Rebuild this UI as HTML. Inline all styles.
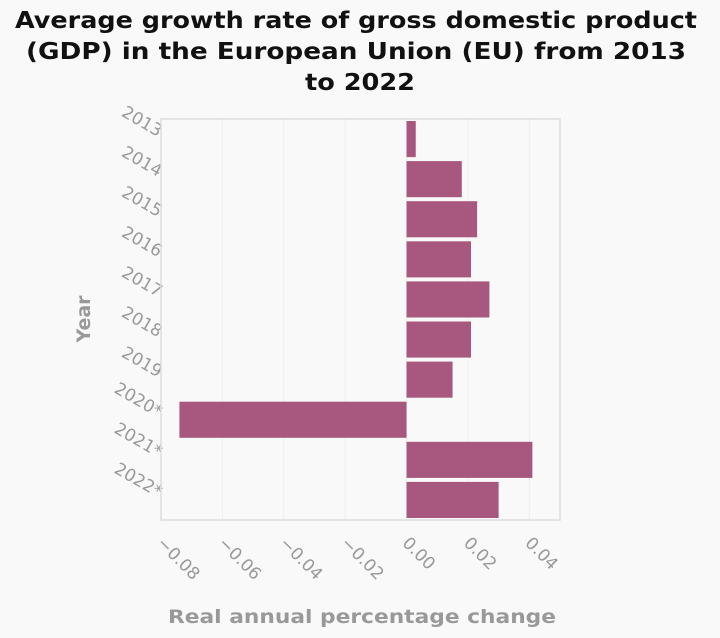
<!DOCTYPE html>
<html><head><meta charset="utf-8"><style>
body{margin:0;background:#f9f9f9;}
svg{display:block;font-family:"DejaVu Sans","Liberation Sans",sans-serif;}
</style></head><body>
<svg id="chart" width="720" height="638" viewBox="0 0 720 638">
<rect width="720" height="638" fill="#f9f9f9"/>
<text font-size="23" font-weight="bold" fill="#111" text-anchor="middle">
<tspan x="360" y="28" textLength="682" lengthAdjust="spacingAndGlyphs">Average growth rate of gross domestic product</tspan>
<tspan x="360" y="59" textLength="660" lengthAdjust="spacingAndGlyphs">(GDP) in the European Union (EU) from 2013</tspan>
<tspan x="360" y="90" textLength="110" lengthAdjust="spacingAndGlyphs">to 2022</tspan></text>
<g id="grid"></g><g id="bars"></g><g id="xt"></g><g id="yt"></g>
<rect x="161" y="119" width="399" height="401" fill="none" stroke="#ddd" stroke-width="1.5"/>
<text x="362" y="623" font-size="19" font-weight="bold" fill="#999" text-anchor="middle" textLength="388" lengthAdjust="spacingAndGlyphs">Real annual percentage change</text>
<text transform="translate(90,319) rotate(-90)" font-size="19" font-weight="bold" fill="#999" text-anchor="middle">Year</text>
</svg>
<script>
const years=["2013","2014","2015","2016","2017","2018","2019","2020*","2021*","2022*"];
const growth=[0.003,0.018,0.023,0.021,0.027,0.021,0.015,-0.074,0.041,0.030];
const xTicks=[-0.08,-0.06,-0.04,-0.02,0,0.02,0.04];
const xTickLabels=["−0.08","−0.06","−0.04","−0.02","0.00","0.02","0.04"];
const NS="http://www.w3.org/2000/svg";
const L=161,R=560,T=119,B=520,xmin=-0.08,xmax=0.05;
const x=v=>L+(v-xmin)/(xmax-xmin)*(R-L);
const band=(B-T)/years.length;
const y=i=>T+i*band;
function mk(tag,attrs,parent){const e=document.createElementNS(NS,tag);for(const k in attrs)e.setAttribute(k,attrs[k]);document.getElementById(parent).appendChild(e);return e;}
xTicks.forEach((t,i)=>{
 const g=mk('line',{x1:x(t),x2:x(t),y1:T,y2:B,stroke:'#eee','stroke-width':1},'grid');
 
 
 const tx=mk('text',{transform:`translate(${x(t)-5},${B+24}) rotate(45)`,'font-size':17,fill:'#999'},'xt');
 tx.textContent=xTickLabels[i];
 
 
});
years.forEach((yr,i)=>{
 const v=growth[i];
 const r=mk('rect',{x:Math.min(x(0),x(v)),y:y(i)+2,width:Math.abs(x(v)-x(0)),height:band-4,fill:'#a8577f'},'bars');
 
 
 const tx=mk('text',{transform:`translate(${L-3},${y(i)+band/2-2}) rotate(30)`,'font-size':17,fill:'#999','text-anchor':'end'},'yt');
 tx.textContent=yr;
 
 
});
</script>
</body></html>
